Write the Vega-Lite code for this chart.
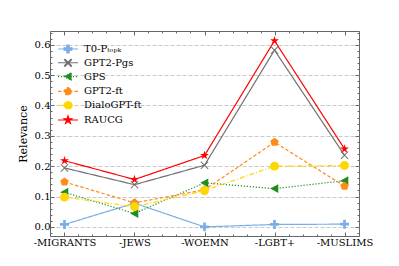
{
  "$schema": "https://vega.github.io/schema/vega-lite/v6.json",
  "width": 309,
  "height": 205,
  "autosize": {"type": "none"},
  "padding": {"left": 50, "top": 31, "right": 40, "bottom": 30},
  "config": {
    "view": {"stroke": "#666666", "strokeWidth": 1},
    "font": "DejaVu Serif",
    "style": {"guide-label": {"font": "DejaVu Serif", "fill": "#000000"}, "guide-title": {"font": "DejaVu Serif", "fill": "#000000"}},
    "axis": {"labelFont": "DejaVu Serif", "titleFont": "DejaVu Serif", "labelColor": "#000000", "titleColor": "#000000", "domain": false, "tickColor": "#666666", "labelOverlap": false, "labelFontSize": 10},
    "legend": {"labelFont": "DejaVu Serif", "labelFontSize": 10, "labelColor": "#000000"}
  },
  "data": {
    "values": [
      {"target": "-MIGRANTS", "i": 0, "model": "T0-Pₜₒₚₖ", "relevance": 0.008},
      {"target": "-JEWS", "i": 1, "model": "T0-Pₜₒₚₖ", "relevance": 0.078},
      {"target": "-WOEMN", "i": 2, "model": "T0-Pₜₒₚₖ", "relevance": 0.0},
      {"target": "-LGBT+", "i": 3, "model": "T0-Pₜₒₚₖ", "relevance": 0.008},
      {"target": "-MUSLIMS", "i": 4, "model": "T0-Pₜₒₚₖ", "relevance": 0.009},
      {"target": "-MIGRANTS", "i": 0, "model": "GPT2-Pgs", "relevance": 0.194},
      {"target": "-JEWS", "i": 1, "model": "GPT2-Pgs", "relevance": 0.139},
      {"target": "-WOEMN", "i": 2, "model": "GPT2-Pgs", "relevance": 0.203},
      {"target": "-LGBT+", "i": 3, "model": "GPT2-Pgs", "relevance": 0.582},
      {"target": "-MUSLIMS", "i": 4, "model": "GPT2-Pgs", "relevance": 0.236},
      {"target": "-MIGRANTS", "i": 0, "model": "GPS", "relevance": 0.114},
      {"target": "-JEWS", "i": 1, "model": "GPS", "relevance": 0.044},
      {"target": "-WOEMN", "i": 2, "model": "GPS", "relevance": 0.145},
      {"target": "-LGBT+", "i": 3, "model": "GPS", "relevance": 0.126},
      {"target": "-MUSLIMS", "i": 4, "model": "GPS", "relevance": 0.152},
      {"target": "-MIGRANTS", "i": 0, "model": "GPT2-ft", "relevance": 0.148},
      {"target": "-JEWS", "i": 1, "model": "GPT2-ft", "relevance": 0.079},
      {"target": "-WOEMN", "i": 2, "model": "GPT2-ft", "relevance": 0.122},
      {"target": "-LGBT+", "i": 3, "model": "GPT2-ft", "relevance": 0.279},
      {"target": "-MUSLIMS", "i": 4, "model": "GPT2-ft", "relevance": 0.134},
      {"target": "-MIGRANTS", "i": 0, "model": "DialoGPT-ft", "relevance": 0.098},
      {"target": "-JEWS", "i": 1, "model": "DialoGPT-ft", "relevance": 0.066},
      {"target": "-WOEMN", "i": 2, "model": "DialoGPT-ft", "relevance": 0.119},
      {"target": "-LGBT+", "i": 3, "model": "DialoGPT-ft", "relevance": 0.2},
      {"target": "-MUSLIMS", "i": 4, "model": "DialoGPT-ft", "relevance": 0.202},
      {"target": "-MIGRANTS", "i": 0, "model": "RAUCG", "relevance": 0.218},
      {"target": "-JEWS", "i": 1, "model": "RAUCG", "relevance": 0.156},
      {"target": "-WOEMN", "i": 2, "model": "RAUCG", "relevance": 0.235},
      {"target": "-LGBT+", "i": 3, "model": "RAUCG", "relevance": 0.613},
      {"target": "-MUSLIMS", "i": 4, "model": "RAUCG", "relevance": 0.257}
    ]
  },
  "encoding": {
    "x": {"field": "i", "type": "quantitative", "scale": {"domain": [-0.207, 4.207], "nice": false, "zero": false}},
    "y": {"field": "relevance", "type": "quantitative", "scale": {"domain": [-0.03, 0.645], "nice": false, "zero": false}}
  },
  "layer": [
    {
      "mark": {"type": "line", "strokeWidth": 1.2},
      "encoding": {
        "stroke": {"field": "model", "type": "nominal", "title": null,
          "scale": {"domain": ["T0-Pₜₒₚₖ", "GPT2-Pgs", "GPS", "GPT2-ft", "DialoGPT-ft", "RAUCG"],
                    "range": ["#7aaee6", "#707070", "#228b22", "#ff8c1a", "#ffd700", "#ff0000"]},
          "legend": {"title": null, "orient": "top-left", "offset": 13, "symbolSize": 64, "labelOffset": 11, "rowPadding": 0.8, "symbolStrokeWidth": 1.1, "labelFont": "DejaVu Serif", "labelFontSize": 10}},
        "strokeDash": {"field": "model", "type": "nominal", "title": null,
          "scale": {"domain": ["T0-Pₜₒₚₖ", "GPT2-Pgs", "GPS", "GPT2-ft", "DialoGPT-ft", "RAUCG"],
                    "range": [[1, 0], [1, 0], [1.2, 1.8], [3.5, 2], [5, 2, 1, 2], [1, 0]]},
          "legend": {"title": null, "orient": "top-left", "offset": 13, "symbolSize": 64, "labelOffset": 11, "rowPadding": 0.8, "symbolStrokeWidth": 1.1, "labelFont": "DejaVu Serif", "labelFontSize": 10}},
        "x": {"field": "i", "type": "quantitative", "title": null,
          "axis": {"orient": "bottom", "grid": false,
            "values": [-0.2, 0, 0.2, 0.4, 0.6, 0.8, 1, 1.2, 1.4, 1.6, 1.8, 2, 2.2, 2.4, 2.6, 2.8, 3, 3.2, 3.4, 3.6, 3.8, 4, 4.2],
            "tickSize": {"condition": {"test": "abs(datum.value - round(datum.value)) < 0.001", "value": -4}, "value": -2},
            "labelExpr": "abs(datum.value - round(datum.value)) < 0.001 ? ['-MIGRANTS','-JEWS','-WOEMN','-LGBT+','-MUSLIMS'][round(datum.value)] : ''",
            "labelPadding": 5, "labelFontSize": 10}},
        "y": {"field": "relevance", "type": "quantitative", "title": "Relevance",
          "axis": {"orient": "left",
            "values": [-0.02, 0, 0.02, 0.04, 0.06, 0.08, 0.1, 0.12, 0.14, 0.16, 0.18, 0.2, 0.22, 0.24, 0.26, 0.28, 0.3, 0.32, 0.34, 0.36, 0.38, 0.4, 0.42, 0.44, 0.46, 0.48, 0.5, 0.52, 0.54, 0.56, 0.58, 0.6, 0.62, 0.64],
            "grid": true, "gridDash": [4, 2], "gridColor": "#bbbbbb", "gridWidth": 0.8,
            "gridOpacity": {"condition": {"test": "abs(datum.value*10 - round(datum.value*10)) < 0.001", "value": 1}, "value": 0},
            "tickSize": {"condition": {"test": "abs(datum.value*10 - round(datum.value*10)) < 0.001", "value": -4}, "value": -2},
            "labelExpr": "abs(datum.value*10 - round(datum.value*10)) < 0.001 ? format(datum.value, '.1f') : ''",
            "labelPadding": 4, "titleFontSize": 11, "titleFontWeight": "normal", "titlePadding": 6}}
      }
    },
    {
      "mark": {"type": "point", "filled": true, "size": 80, "opacity": 1},
      "encoding": {
        "color": {"field": "model", "type": "nominal", "title": null,
          "scale": {"domain": ["T0-Pₜₒₚₖ", "GPT2-Pgs", "GPS", "GPT2-ft", "DialoGPT-ft", "RAUCG"],
                    "range": ["#7aaee6", "#707070", "#228b22", "#ff8c1a", "#ffd700", "#ff0000"]},
          "legend": {"title": null, "orient": "top-left", "offset": 13, "symbolSize": 64, "labelOffset": 11, "rowPadding": 0.8, "symbolStrokeWidth": 1.1, "labelFont": "DejaVu Serif", "labelFontSize": 10}},
        "shape": {"field": "model", "type": "nominal", "title": null,
          "scale": {"domain": ["T0-Pₜₒₚₖ", "GPT2-Pgs", "GPS", "GPT2-ft", "DialoGPT-ft", "RAUCG"],
                    "range": [
                      "M-2.5,0H2.5M-1,-0.3H-0.3V-1H0.3V-0.3H1V0.3H0.3V1H-0.3V0.3H-1Z",
                      "M-2.5,0H2.5M-0.9,-0.75L-0.75,-0.9L0,-0.15L0.75,-0.9L0.9,-0.75L0.15,0L0.9,0.75L0.75,0.9L0,0.15L-0.75,0.9L-0.9,0.75L-0.15,0Z",
                      "M-2.5,0H2.5M-0.95,0L0.85,-1L0.85,1Z",
                      "M-2.5,0H2.5M0,-1L0.951,-0.309L0.588,0.809L-0.588,0.809L-0.951,-0.309Z",
                      "M-2.5,0H2.5M1,0A1,1,0,1,1,-1,0A1,1,0,1,1,1,0Z",
                      "M-2.5,0H2.5M0,-1.05L0.236,-0.325L0.999,-0.325L0.381,0.124L0.617,0.85L0,0.401L-0.617,0.85L-0.381,0.124L-0.999,-0.325L-0.236,-0.325Z"
                    ]},
          "legend": {"title": null, "orient": "top-left", "offset": 13, "symbolSize": 64, "labelOffset": 11, "rowPadding": 0.8, "symbolStrokeWidth": 1.1, "labelFont": "DejaVu Serif", "labelFontSize": 10}},
        "x": {"field": "i", "type": "quantitative",
          "axis": {"orient": "top", "grid": false, "labels": false, "title": null,
            "values": [-0.2, 0, 0.2, 0.4, 0.6, 0.8, 1, 1.2, 1.4, 1.6, 1.8, 2, 2.2, 2.4, 2.6, 2.8, 3, 3.2, 3.4, 3.6, 3.8, 4, 4.2],
            "tickSize": {"condition": {"test": "abs(datum.value - round(datum.value)) < 0.001", "value": -4}, "value": -2}}},
        "y": {"field": "relevance", "type": "quantitative",
          "axis": {"orient": "right", "grid": false, "labels": false, "title": null,
            "values": [-0.02, 0, 0.02, 0.04, 0.06, 0.08, 0.1, 0.12, 0.14, 0.16, 0.18, 0.2, 0.22, 0.24, 0.26, 0.28, 0.3, 0.32, 0.34, 0.36, 0.38, 0.4, 0.42, 0.44, 0.46, 0.48, 0.5, 0.52, 0.54, 0.56, 0.58, 0.6, 0.62, 0.64],
            "tickSize": {"condition": {"test": "abs(datum.value*10 - round(datum.value*10)) < 0.001", "value": -4}, "value": -2}}}
      }
    }
  ],
  "resolve": {"axis": {"x": "independent", "y": "independent"}}
}
